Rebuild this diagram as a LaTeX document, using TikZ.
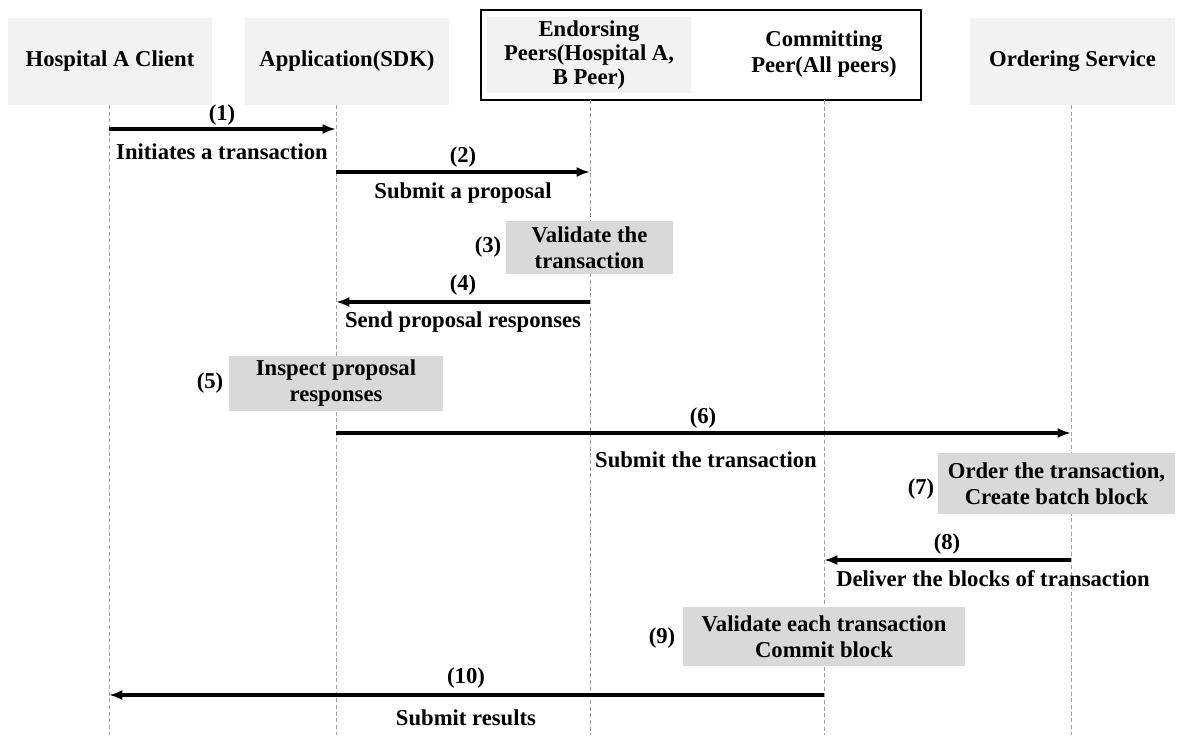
\documentclass[tikz,border=0pt]{standalone}
\usepackage{fontspec}
\setmainfont{Liberation Serif}
\usetikzlibrary{arrows.meta}

\definecolor{headgray}{HTML}{F2F2F2}
\definecolor{stepgray}{HTML}{D9D9D9}
\definecolor{linegray}{HTML}{A0A0A0}

\tikzset{
  head/.style={fill=headgray, align=center, inner sep=0pt, minimum width=153pt},
  stepbox/.style={fill=stepgray, align=center, inner sep=0pt, font=\fontsize{17}{19.5}\selectfont\bfseries},
  lifeline/.style={linegray, line width=0.75pt, dash pattern=on 3pt off 2pt},
  msg/.style={line width=2.4pt, -{Latex[length=10pt,width=7.5pt]}},
  lbl/.style={inner sep=0pt, align=center},
}

\begin{document}
\begin{tikzpicture}[x=0.75pt, y=-0.75pt, font=\fontsize{17}{18}\selectfont\bfseries]
\useasboundingbox (0,0) rectangle (1194,735);

% Participants
\node[head, minimum height=65.25pt] (client) at (110,61.5) {Hospital A Client};
\node[head, minimum height=65.25pt] (app) at (347,61.5) {Application(SDK)};
\node[draw, line width=1.5pt, minimum width=330pt, minimum height=67.5pt] (peers) at (701,55) {};
\node[head, minimum height=57pt] (endorse) at (589,55) {Endorsing\\Peers(Hospital A,\\B Peer)};
\node[lbl, font=\fontsize{17}{20}\selectfont\bfseries] (commit) at (824,54) {Committing\\Peer(All peers)};
\node[head, minimum width=153.75pt, minimum height=65.25pt] (order) at (1072.5,61.5) {Ordering Service};

% Lifelines
\coordinate (clientL) at (109,105);
\coordinate (appL) at (336,105);
\coordinate (endL) at (590,100);
\coordinate (comL) at (824,100);
\coordinate (ordL) at (1071,105);
\foreach \l in {clientL,appL,endL,comL,ordL} {
  \draw[lifeline] (\l) -- (\l |- 0,735);
}

% Message rows
\coordinate (r1) at (0,129);
\coordinate (r2) at (0,172);
\coordinate (r4) at (0,302);
\coordinate (r6) at (0,433);
\coordinate (r8) at (0,560);
\coordinate (r10) at (0,695);

% (1)
\draw[msg] (clientL |- r1) -- (appL |- r1);
\node[lbl] (n1) at (222,115) {(1)};
\node[lbl] (t1) at (222,152) {Initiates a transaction};

% (2)
\draw[msg] (appL |- r2) -- (endL |- r2);
\node[lbl] (n2) at (463,157) {(2)};
\node[lbl] (t2) at (463,193) {Submit a proposal};

% (3)
\node[stepbox, minimum width=125.25pt, minimum height=39.75pt] (s3) at (589.5,247.5) {Validate the\\transaction};
\node[lbl] (n3) at (488,247) {(3)};

% (4)
\draw[msg] (endL |- r4) -- (appL |- r4);
\node[lbl] (n4) at (463,285) {(4)};
\node[lbl] (t4) at (463,322) {Send proposal responses};

% (5)
\node[stepbox, minimum width=160.5pt, minimum height=41.25pt] (s5) at (336,383.5) {Inspect proposal\\responses};
\node[lbl] (n5) at (210,383) {(5)};

% (6)
\draw[msg] (appL |- r6) -- (ordL |- r6);
\node[lbl] (n6) at (703,418) {(6)};
\node[lbl] (t6) at (706,460) {Submit the transaction};

% (7)
\node[stepbox, minimum width=177.75pt, minimum height=45.75pt] (s7) at (1056.5,483.5) {Order the transaction,\\Create batch block};
\node[lbl] (n7) at (921,489) {(7)};

% (8)
\draw[msg] (ordL |- r8) -- (comL |- r8);
\node[lbl] (n8) at (947,544) {(8)};
\node[lbl] (t8) at (993,579) {Deliver the blocks of transaction};

% (9)
\node[stepbox, minimum width=211.5pt, minimum height=44.25pt] (s9) at (824,636.5) {Validate each transaction\\Commit block};
\node[lbl] (n9) at (662,638) {(9)};

% (10)
\draw[msg] (comL |- r10) -- (clientL |- r10);
\node[lbl] (n10) at (466,678) {(10)};
\node[lbl] (t10) at (466,718) {Submit results};

\end{tikzpicture}
\end{document}
